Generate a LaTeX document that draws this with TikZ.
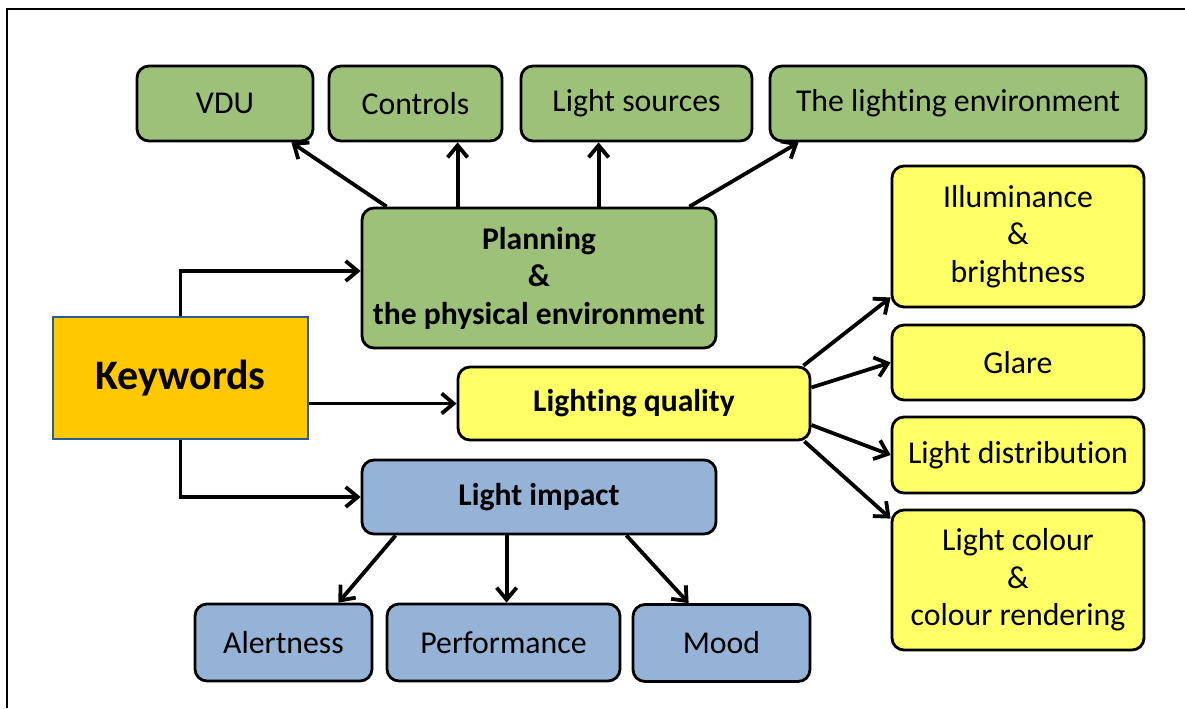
\documentclass[tikz,border=0pt]{standalone}
\usepackage{fontspec}
\setmainfont{Carlito}[Ligatures=NoCommon]
\usepackage{xcolor}
\usepackage{tikz}
\usetikzlibrary{arrows.meta, positioning, calc}
\definecolor{envgreen}{RGB}{158,193,122}
\definecolor{impblue}{RGB}{149,179,215}
\definecolor{qualyellow}{RGB}{255,255,102}
\definecolor{keyorange}{RGB}{255,200,0}
\definecolor{keyblue}{RGB}{44,93,143}

\begin{document}
\begin{tikzpicture}[x=0.5pt, y=-0.5pt,
  box/.style={draw=black, line width=1.4pt, rounded corners=6pt, align=center,
    inner sep=0pt, font=\fontsize{15.9}{18.75}\selectfont},
  boldbox/.style={box, font=\fontsize{15.8}{18.75}\selectfont\bfseries},
  envbox/.style={fill=envgreen},
  qualbox/.style={fill=qualyellow},
  impbox/.style={fill=impblue},
  arr/.style={-{Straight Barb[length=6pt,width=10pt]}, line width=1.9pt}]
\useasboundingbox (0,0) rectangle (1185,708);
\draw[line width=1pt] (7,708) |- (1185,9);

% centre
\node[draw=keyblue, fill=keyorange, line width=1pt, minimum width=127.5pt, minimum height=61pt,
  font=\fontsize{21}{25}\selectfont\bfseries] (kw) at (180.5,378) {Keywords};
\node[boldbox, envbox, minimum width=177pt, minimum height=70pt] (plan) at (539,278)
  {Planning\\ \&\\ the physical environment};
\node[boldbox, qualbox, minimum width=176pt, minimum height=36.5pt] (lq) at (634,403.5) {Lighting quality};
\node[boldbox, impbox, minimum width=177pt, minimum height=37pt] (imp) at (539,497) {Light impact};

% top row
\node[box, envbox, minimum width=88pt, minimum height=37.5pt] (vdu) at (225,103.5) {VDU};
\node[box, envbox, minimum width=86.5pt, minimum height=37.5pt] (ctrl) at (415.5,103.5) {Controls};
\node[box, envbox, minimum width=115.5pt, minimum height=37.5pt] (src) at (636.5,103.5) {Light sources};
\node[box, envbox, minimum width=188pt, minimum height=37.5pt] (env) at (958,103.5) {The lighting environment};

% right column
\node[box, qualbox, minimum width=126pt, minimum height=70.5pt] (ill) at (1018,236.5) {Illuminance\\ \&\\ brightness};
\node[box, qualbox, minimum width=126pt, minimum height=37.5pt] (glare) at (1018,362.5) {Glare};
\node[box, qualbox, minimum width=126pt, minimum height=38pt] (dist) at (1018,455) {Light distribution};
\node[box, qualbox, minimum width=126pt, minimum height=70pt] (col) at (1018,580) {Light colour\\ \&\\ colour rendering};

% bottom row
\node[box, impbox, minimum width=88.5pt, minimum height=38.5pt] (alert) at (283.5,642.5) {Alertness};
\node[box, impbox, minimum width=116.5pt, minimum height=38.5pt] (perf) at (503.5,642.5) {Performance};
\node[box, impbox, minimum width=88.5pt, minimum height=38.5pt] (mood) at (721.5,643) {Mood};

% connectors
\draw[arr] (kw.north) |- ([yshift=3.5pt]plan.west);
\draw[arr] (lq.west -| kw.east) -- (lq.west);
\draw[arr] (kw.south) |- (imp.west);

\draw[arr] ([xshift=13pt]plan.north west) -- ([xshift=-11.5pt]vdu.south east);
\draw[arr] ([xshift=48.5pt]plan.north west) -- ([xshift=48.5pt]plan.north west |- ctrl.south);
\draw[arr] ([xshift=119pt]plan.north west) -- ([xshift=119pt]plan.north west |- src.south);
\draw[arr] ([xshift=-14pt]plan.north east) -- ([xshift=15pt]env.south west);

\draw[arr] ([xshift=-4pt]lq.north east) -- ([yshift=5.5pt]ill.south west);
\draw[arr] ([yshift=8pt]lq.east) -- (glare.west);
\draw[arr] ([yshift=-10.75pt]lq.east) -- (dist.west);
\draw[arr] ([xshift=-3.5pt]lq.south east) -- ([yshift=-5pt]col.north west);

\draw[arr] ([xshift=17.5pt]imp.south west) -- ([xshift=-17.5pt]alert.north east);
\draw[arr] ([xshift=73pt]imp.south west) -- ([xshift=73pt]imp.south west |- perf.north);
\draw[arr] ([xshift=-45.5pt]imp.south east) -- ([xshift=28.5pt]mood.north west);
\end{tikzpicture}
\end{document}
